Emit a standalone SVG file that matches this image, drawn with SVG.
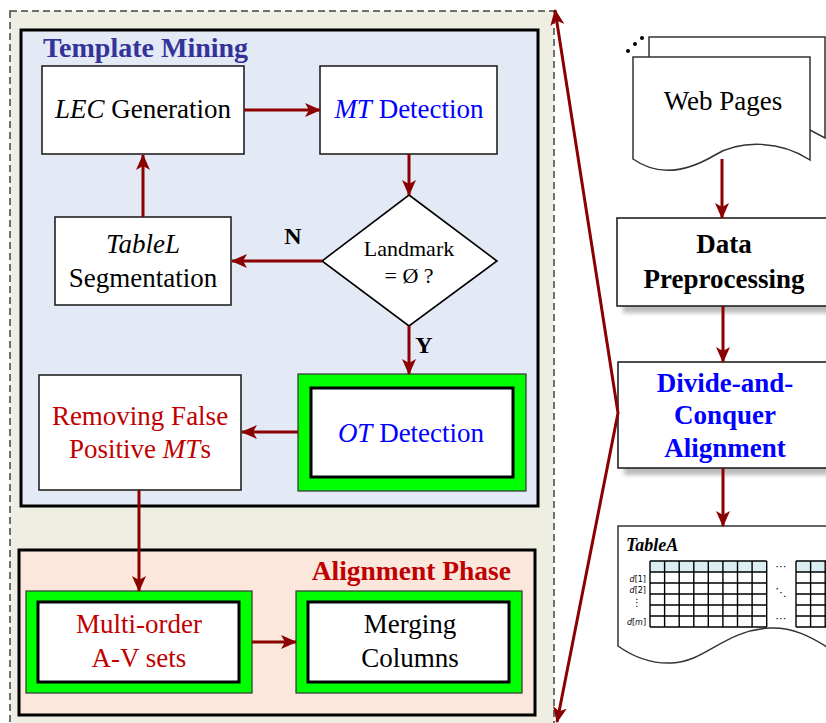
<svg xmlns="http://www.w3.org/2000/svg" width="826" height="723" viewBox="0 0 826 723">
<defs>
<marker id="ah" markerUnits="userSpaceOnUse" markerWidth="16" markerHeight="14" refX="15" refY="7" orient="auto-start-reverse"><path d="M0,0 L16,7 L0,14 L4,7 Z" fill="#8B0000"/></marker>
<filter id="sh" x="-10%" y="-10%" width="130%" height="140%"><feGaussianBlur stdDeviation="2"/></filter>
<style>
text{font-family:"Liberation Serif","Times New Roman",serif;font-size:27px;fill:#000}
.c{text-anchor:middle}
.b{font-weight:bold}
.i{font-style:italic}
.red{fill:#C00000}
.blue{fill:#0000FF}
.box{fill:#fff;stroke:#222;stroke-width:1.6}
.grn{fill:#00FF00;stroke:#333;stroke-width:1.2}
.inner{fill:#fff;stroke:#000;stroke-width:3}
.con{stroke:#8B0000;stroke-width:3;fill:none;marker-end:url(#ah)}
.shadow{fill:#BBBBBB;filter:url(#sh)}
.grid{stroke:#000;stroke-width:1.4;fill:none}
.sm{font-family:"DejaVu Sans","Liberation Sans",sans-serif;font-size:8px}
</style>
</defs>
<rect width="826" height="723" fill="#fff"/>
<g id="outer">
<rect x="10" y="11" width="544" height="730" fill="#EEEEE3" stroke="#444" stroke-width="1.5" stroke-dasharray="7,4"/>
</g>
<g id="template-mining">
<rect x="21" y="30" width="517" height="476" fill="#E3EAF5" stroke="#000" stroke-width="3"/>
<text x="43" y="57" class="b" style="fill:#333399;font-size:28px">Template Mining</text>
</g>
<g id="alignment-phase">
<rect x="19" y="550" width="516" height="165" fill="#FBE7DC" stroke="#000" stroke-width="3"/>
<text x="511" y="580" class="b red" text-anchor="end" style="font-size:27.5px">Alignment Phase</text>
</g>
<g id="lec">
<rect x="42" y="66" width="202" height="88" class="box"/>
<text x="143" y="118" class="c"><tspan class="i">LEC</tspan> Generation</text>
</g>
<g id="mt">
<rect x="320" y="66" width="177" height="88" class="box"/>
<text x="409" y="118" class="c blue"><tspan class="i">MT</tspan> Detection</text>
</g>
<g id="tablel">
<rect x="55" y="217" width="176" height="88" class="box"/>
<text x="143" y="253" class="c"><tspan class="i">TableL</tspan></text>
<text x="143" y="287" class="c">Segmentation</text>
</g>
<g id="landmark">
<path d="M409,195 L497,261 L409,326 L322,261 Z" fill="#fff" stroke="#000" stroke-width="1.6"/>
<text x="409" y="256" class="c" style="font-size:22px">Landmark</text>
<text x="409" y="283" class="c" style="font-size:22px">= Ø ?</text>
</g>
<g id="ot">
<rect x="298" y="374" width="228" height="117" class="grn"/>
<rect x="311" y="388" width="202" height="89" class="inner"/>
<text x="411" y="442" class="c blue"><tspan class="i">OT</tspan> Detection</text>
</g>
<g id="removing">
<rect x="39" y="375" width="202" height="115" class="box"/>
<text x="140" y="425" class="c red">Removing False</text>
<text x="140" y="458" class="c red">Positive <tspan class="i">MT</tspan>s</text>
</g>
<g id="multi-order">
<rect x="26" y="591" width="226" height="102" class="grn"/>
<rect x="38" y="602" width="201" height="80" class="inner"/>
<text x="139" y="633" class="c red">Multi-order</text>
<text x="139" y="667" class="c red">A-V sets</text>
</g>
<g id="merging">
<rect x="296" y="591" width="226" height="102" class="grn"/>
<rect x="308" y="602" width="201" height="80" class="inner"/>
<text x="410" y="633" class="c">Merging</text>
<text x="410" y="667" class="c">Columns</text>
</g>
<g id="web-pages">
<path d="M649,37 H825 V138 L810,130 L649,130 Z" fill="#fff" stroke="#333" stroke-width="1.5"/>
<path d="M633,57 H810 V160 C780,140 740,140 715,155 C690,170 660,178 633,159 Z" fill="#fff" stroke="#333" stroke-width="1.5"/>
<circle cx="628" cy="51" r="2" fill="#000"/>
<circle cx="635" cy="44" r="2" fill="#000"/>
<circle cx="642" cy="38" r="2" fill="#000"/>
<text x="723" y="110" class="c">Web Pages</text>
</g>
<g id="data-preprocessing">
<rect x="623" y="225" width="210" height="88" class="shadow"/>
<rect x="617" y="218" width="215" height="88" class="box"/>
<text x="724" y="253" class="c b">Data</text>
<text x="724" y="288" class="c b">Preprocessing</text>
</g>
<g id="divide-and-conquer">
<rect x="624" y="369" width="210" height="106" class="shadow"/>
<rect x="618" y="362" width="215" height="106" class="box"/>
<text x="725" y="392" class="c b blue">Divide-and-</text>
<text x="725" y="424" class="c b blue">Conquer</text>
<text x="725" y="457" class="c b blue">Alignment</text>
</g>
<g id="tablea">
<path d="M618,526 H832 V650 C810,636 792,627 770,628 C725,630 705,662 672,663 C650,664 632,656 618,646 Z" fill="#fff" stroke="#333" stroke-width="1.5"/>
<text x="626" y="551" class="b i" style="font-size:18px">TableA</text>
<rect x="650" y="561" width="116.7" height="11" fill="#DAEEF3"/>
<rect x="796" y="561" width="30" height="11" fill="#DAEEF3"/>
<path class="grid" d="M650,561 H766.7 M650,572 H766.7 M650,583 H766.7 M650,594 H766.7 M650,605 H766.7 M650,616 H766.7 M650,627 H766.7 M650,561 V627 M664.6,561 V627 M679.2,561 V627 M693.8,561 V627 M708.3,561 V627 M722.9,561 V627 M737.5,561 V627 M752.1,561 V627 M766.7,561 V627"/>
<path class="grid" d="M796,561 H830 M796,572 H830 M796,583 H830 M796,594 H830 M796,605 H830 M796,616 H830 M796,627 H830 M796,561 V627 M810.6,561 V627 M825.2,561 V627"/>
<text x="646" y="582" class="sm" text-anchor="end"><tspan font-style="italic">d</tspan>[1]</text>
<text x="646" y="593" class="sm" text-anchor="end"><tspan font-style="italic">d</tspan>[2]</text>
<text x="637" y="606" class="sm" text-anchor="middle" style="font-size:10px">⋮</text>
<text x="646" y="625" class="sm" text-anchor="end"><tspan font-style="italic">d</tspan>[<tspan font-style="italic">m</tspan>]</text>
<text x="781" y="570" class="sm" text-anchor="middle" style="font-size:11px">⋯</text>
<text x="781" y="596" class="sm" text-anchor="middle" style="font-size:11px">⋱</text>
<text x="781" y="622" class="sm" text-anchor="middle" style="font-size:11px">⋯</text>
</g>
<g id="connectors">
<line x1="244" y1="110" x2="320" y2="110" class="con"/>
<line x1="409" y1="154" x2="409" y2="195" class="con"/>
<line x1="322" y1="261" x2="232" y2="261" class="con"/>
<line x1="143" y1="217" x2="143" y2="155" class="con"/>
<line x1="409" y1="326" x2="409" y2="374" class="con"/>
<line x1="298" y1="432" x2="242" y2="432" class="con"/>
<line x1="139" y1="490" x2="139" y2="591" class="con"/>
<line x1="252" y1="642" x2="296" y2="642" class="con"/>
<line x1="722" y1="159" x2="722" y2="218" class="con"/>
<line x1="723" y1="306" x2="723" y2="362" class="con"/>
<line x1="723" y1="468" x2="723" y2="526" class="con"/>
<path d="M555,10 L618,413 L557,722" class="con" style="marker-start:url(#ah)"/>
<text x="293" y="244" class="c b" style="font-size:24px">N</text>
<text x="424" y="353" class="c b" style="font-size:24px">Y</text>
</g>
</svg>
